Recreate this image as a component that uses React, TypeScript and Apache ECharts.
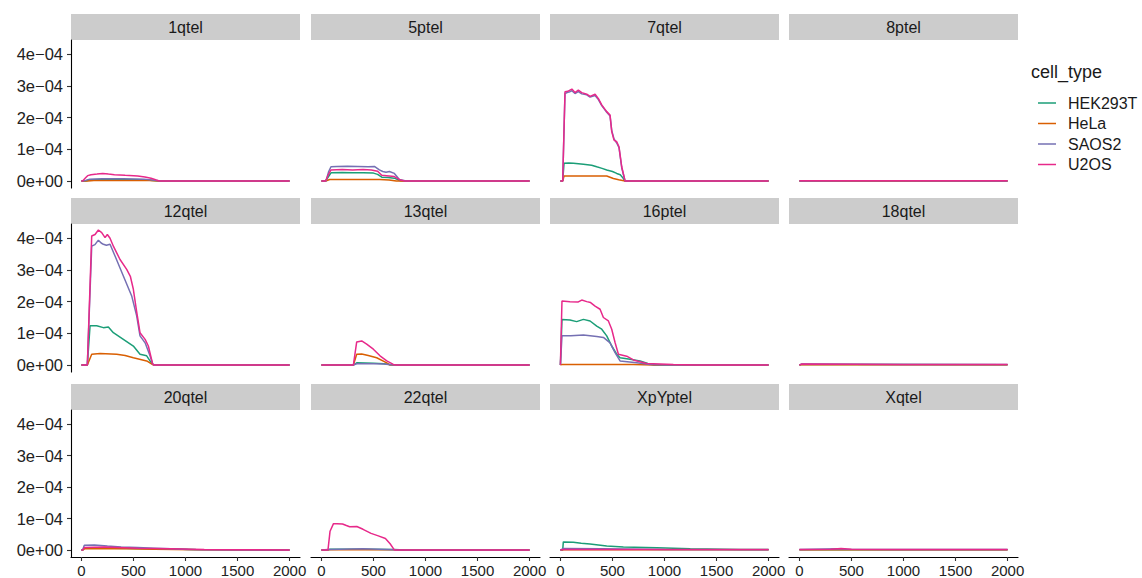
import React, { useEffect, useRef } from "react";
import * as echarts from "echarts";

// ---------- data (y values in units of 1e-4) ----------
const cellTypes = ["HEK293T", "HeLa", "SAOS2", "U2OS"];
const colors = ["#1B9E77", "#D95F02", "#7570B3", "#E7298A"];
const panels = ["1qtel", "5ptel", "7qtel", "8ptel", "12qtel", "13qtel", "16ptel", "18qtel", "20qtel", "22qtel", "XpYptel", "Xqtel"];
const xTicks = [0, 500, 1000, 1500, 2000];
const yTicks = [0, 1e-4, 2e-4, 3e-4, 4e-4];
const UNIT = 1e-4;

type Pts = number[][];

// 1qtel
const q1_HEK: Pts = [[0, 0], [40, 0], [80, 0.04], [200, 0.05], [400, 0.05], [600, 0.04], [720, 0.01], [760, 0], [2000, 0]];
const q1_HeLa: Pts = [[0, 0], [60, 0], [120, 0.02], [400, 0.02], [650, 0.02], [740, 0], [2000, 0]];
const q1_SAOS2: Pts = [[0, 0], [40, 0.02], [80, 0.06], [200, 0.07], [400, 0.07], [600, 0.06], [720, 0.02], [760, 0], [2000, 0]];
const q1_U2OS: Pts = [[0, 0], [12, 0], [40, 0.1], [60, 0.17], [92, 0.2], [150, 0.22], [205, 0.24], [260, 0.22], [317, 0.2], [420, 0.18], [541, 0.16], [610, 0.13], [669, 0.09], [720, 0.03], [749, 0], [2000, 0]];

// 5ptel
const p5_HEK: Pts = [[0, 0], [40, 0], [70, 0.15], [92, 0.26], [200, 0.27], [300, 0.26], [400, 0.26], [500, 0.25], [540, 0.21], [580, 0.12], [640, 0.11], [700, 0.09], [760, 0.01], [800, 0], [2000, 0]];
const p5_HeLa: Pts = [[0, 0], [40, 0], [80, 0.05], [300, 0.05], [560, 0.05], [650, 0.03], [720, 0], [2000, 0]];
const p5_SAOS2: Pts = [[0, 0], [44, 0], [70, 0.3], [92, 0.45], [150, 0.46], [250, 0.47], [350, 0.46], [450, 0.45], [509, 0.46], [557, 0.35], [589, 0.3], [621, 0.28], [653, 0.3], [701, 0.24], [749, 0.05], [813, 0], [2000, 0]];
const p5_U2OS: Pts = [[0, 0], [40, 0], [70, 0.22], [92, 0.35], [200, 0.36], [300, 0.35], [400, 0.36], [480, 0.35], [540, 0.31], [580, 0.18], [650, 0.16], [700, 0.14], [760, 0.03], [800, 0], [2000, 0]];

// 7qtel
const q7_HEK: Pts = [[0, 0], [22, 0], [35, 0.56], [80, 0.57], [125, 0.56], [221, 0.53], [300, 0.5], [349, 0.45], [400, 0.4], [445, 0.35], [500, 0.3], [541, 0.24], [575, 0.2], [600, 0.1], [621, 0], [2000, 0]];
const q7_HeLa: Pts = [[0, 0], [22, 0], [35, 0.16], [200, 0.16], [445, 0.16], [509, 0.08], [560, 0.04], [621, 0], [2000, 0]];
const q7_SAOS2: Pts = [[0, 0], [22, 0], [44, 2.76], [70, 2.8], [92, 2.82], [110, 2.85], [140, 2.76], [172, 2.82], [205, 2.75], [253, 2.72], [285, 2.65], [333, 2.7], [365, 2.57], [397, 2.38], [445, 2.17], [477, 2.05], [493, 1.6], [515, 1.33], [541, 1.2], [563, 1.05], [589, 0.42], [621, 0], [2000, 0]];
const q7_U2OS: Pts = [[0, 0], [22, 0], [44, 2.82], [70, 2.83], [92, 2.87], [110, 2.9], [140, 2.79], [172, 2.87], [205, 2.79], [253, 2.74], [285, 2.67], [333, 2.74], [365, 2.6], [397, 2.4], [445, 2.19], [477, 2.08], [493, 1.56], [515, 1.29], [541, 1.24], [563, 1.08], [589, 0.45], [621, 0], [2000, 0]];

// 8ptel
const p8_HEK: Pts = [[0, 0], [500, 0.01], [1000, 0], [2000, 0]];
const p8_HeLa: Pts = [[0, 0], [500, 0], [1000, 0], [2000, 0]];
const p8_SAOS2: Pts = [[0, 0], [500, 0.01], [1000, 0.01], [2000, 0]];
const p8_U2OS: Pts = [[0, 0.01], [500, 0.01], [1000, 0.01], [2000, 0.01]];

// 12qtel
const q12_HEK: Pts = [[0, 0], [57, 0], [83, 1.24], [147, 1.24], [211, 1.18], [259, 1.2], [307, 1.02], [403, 0.81], [499, 0.6], [563, 0.34], [627, 0.29], [675, 0.05], [700, 0], [2000, 0]];
const q12_HeLa: Pts = [[0, 0], [57, 0], [99, 0.34], [179, 0.36], [339, 0.34], [420, 0.3], [499, 0.23], [627, 0.13], [685, 0.01], [700, 0], [2000, 0]];
const q12_SAOS2: Pts = [[0, 0], [57, 0], [99, 3.75], [130, 3.8], [163, 3.94], [190, 3.85], [211, 3.81], [240, 3.78], [275, 3.81], [323, 3.44], [403, 2.81], [483, 2.18], [531, 1.55], [563, 0.92], [612, 0.7], [659, 0.29], [685, 0.03], [700, 0], [2000, 0]];
const q12_U2OS: Pts = [[0, 0], [57, 0], [99, 4.07], [131, 4.12], [163, 4.26], [195, 4.18], [227, 4.02], [249, 4.12], [275, 4.0], [307, 3.75], [371, 3.33], [435, 3.02], [470, 2.8], [499, 2.39], [530, 1.7], [563, 1.02], [612, 0.81], [643, 0.6], [685, 0.03], [700, 0], [2000, 0]];

// 13qtel
const q13_HEK: Pts = [[0, 0], [307, 0], [339, 0.07], [500, 0.06], [600, 0.04], [690, 0], [2000, 0]];
const q13_HeLa: Pts = [[0, 0], [307, 0], [339, 0.34], [387, 0.35], [450, 0.3], [531, 0.23], [628, 0.07], [660, 0], [2000, 0]];
const q13_SAOS2: Pts = [[0, 0], [307, 0], [339, 0.04], [500, 0.04], [600, 0.03], [690, 0], [2000, 0]];
const q13_U2OS: Pts = [[0, 0], [307, 0], [339, 0.73], [387, 0.76], [435, 0.66], [499, 0.5], [563, 0.29], [628, 0.13], [691, 0.02], [720, 0], [2000, 0]];

// 16ptel
const p16_HEK: Pts = [[0, 0], [5, 0], [15, 1.44], [92, 1.42], [156, 1.37], [221, 1.44], [285, 1.39], [349, 1.23], [397, 1.13], [445, 0.92], [493, 0.6], [541, 0.34], [573, 0.23], [669, 0.18], [765, 0.13], [840, 0.05], [900, 0], [2000, 0]];
const p16_HeLa: Pts = [[0, 0], [5, 0], [15, 0.02], [700, 0.02], [900, 0], [2000, 0]];
const p16_SAOS2: Pts = [[0, 0], [5, 0], [15, 0.92], [100, 0.92], [221, 0.95], [349, 0.9], [413, 0.87], [477, 0.7], [525, 0.39], [573, 0.13], [733, 0.07], [860, 0.02], [1000, 0], [2000, 0]];
const p16_U2OS: Pts = [[0, 0], [5, 0], [15, 2.02], [92, 2.0], [172, 1.99], [205, 2.05], [253, 2.0], [290, 1.97], [333, 1.86], [381, 1.76], [413, 1.5], [461, 1.39], [493, 1.13], [525, 0.71], [557, 0.34], [637, 0.28], [701, 0.16], [829, 0.05], [1085, 0.02], [1300, 0], [2000, 0]];

// 18qtel
const q18_HEK: Pts = [[0, 0], [20, 0.02], [1000, 0.02], [2000, 0.01]];
const q18_HeLa: Pts = [[0, 0], [20, 0.01], [1000, 0.01], [2000, 0.01]];
const q18_SAOS2: Pts = [[0, 0], [20, 0.03], [1000, 0.02], [2000, 0.02]];
const q18_U2OS: Pts = [[0, 0], [20, 0.03], [1000, 0.02], [2000, 0.02]];

// 20qtel
const q20_HEK: Pts = [[0, 0], [12, 0], [28, 0.06], [300, 0.06], [700, 0.04], [1100, 0.02], [1500, 0.01], [2000, 0]];
const q20_HeLa: Pts = [[0, 0], [12, 0], [28, 0.04], [300, 0.05], [700, 0.03], [1100, 0.01], [2000, 0]];
const q20_SAOS2: Pts = [[0, 0], [12, 0], [28, 0.15], [124, 0.16], [250, 0.13], [381, 0.1], [540, 0.08], [702, 0.06], [860, 0.04], [1022, 0.02], [1200, 0.01], [2000, 0]];
const q20_U2OS: Pts = [[0, 0], [12, 0], [28, 0.08], [220, 0.1], [540, 0.06], [860, 0.04], [1180, 0.02], [1500, 0.01], [2000, 0]];

// 22qtel
const q22_HEK: Pts = [[0, 0], [63, 0], [83, 0.03], [400, 0.03], [700, 0.02], [800, 0], [2000, 0]];
const q22_HeLa: Pts = [[0, 0], [63, 0.01], [700, 0.01], [800, 0], [2000, 0]];
const q22_SAOS2: Pts = [[0, 0], [63, 0.02], [400, 0.04], [700, 0.01], [800, 0], [2000, 0]];
const q22_U2OS: Pts = [[0, 0], [63, 0], [83, 0.6], [116, 0.84], [150, 0.84], [203, 0.83], [240, 0.78], [271, 0.74], [340, 0.75], [400, 0.66], [477, 0.53], [540, 0.46], [615, 0.37], [660, 0.2], [702, 0], [2000, 0]];

// XpYptel
const xpy_HEK: Pts = [[0, 0], [22, 0], [28, 0.26], [124, 0.25], [200, 0.22], [284, 0.19], [445, 0.13], [605, 0.1], [926, 0.07], [1247, 0.04], [1728, 0.02], [2000, 0.02]];
const xpy_HeLa: Pts = [[0, 0], [28, 0.01], [1000, 0.01], [2000, 0.01]];
const xpy_SAOS2: Pts = [[0, 0], [28, 0.05], [400, 0.04], [1000, 0.02], [2000, 0.01]];
const xpy_U2OS: Pts = [[0, 0], [28, 0.02], [1000, 0.02], [2000, 0.02]];

// Xqtel
const xq_HEK: Pts = [[0, 0.01], [1000, 0.01], [2000, 0.01]];
const xq_HeLa: Pts = [[0, 0.01], [1000, 0.01], [2000, 0.01]];
const xq_SAOS2: Pts = [[0, 0.02], [380, 0.04], [450, 0.03], [1000, 0.02], [2000, 0.02]];
const xq_U2OS: Pts = [[0, 0.02], [300, 0.03], [400, 0.05], [500, 0.03], [900, 0.02], [2000, 0.02]];

const panelData: Pts[][] = [
  [q1_HEK, q1_HeLa, q1_SAOS2, q1_U2OS],
  [p5_HEK, p5_HeLa, p5_SAOS2, p5_U2OS],
  [q7_HEK, q7_HeLa, q7_SAOS2, q7_U2OS],
  [p8_HEK, p8_HeLa, p8_SAOS2, p8_U2OS],
  [q12_HEK, q12_HeLa, q12_SAOS2, q12_U2OS],
  [q13_HEK, q13_HeLa, q13_SAOS2, q13_U2OS],
  [p16_HEK, p16_HeLa, p16_SAOS2, p16_U2OS],
  [q18_HEK, q18_HeLa, q18_SAOS2, q18_U2OS],
  [q20_HEK, q20_HeLa, q20_SAOS2, q20_U2OS],
  [q22_HEK, q22_HeLa, q22_SAOS2, q22_U2OS],
  [xpy_HEK, xpy_HeLa, xpy_SAOS2, xpy_U2OS],
  [xq_HEK, xq_HeLa, xq_SAOS2, xq_U2OS],
];

// ---------- layout ----------
const colLeft = [71, 311, 550, 789];
const panelW = 229;
const rowTop = [40, 224, 410];
const rowH = [148, 148, 147];
const stripH = 26;
const FONT = "'Liberation Sans', Arial, Helvetica, sans-serif";

function yFmt(v: number): string {
  if (Math.abs(v) < 1e-12) return "0e+00";
  const k = Math.round(v / 1e-4);
  return `${k}e\u221204`;
}

export default function App() {
  const ref = useRef<HTMLDivElement>(null);
  useEffect(() => {
    document.body.style.margin = "0";
    if (!ref.current) return;
    const chart = echarts.init(ref.current, undefined, { renderer: "svg" });

    const grids: any[] = [];
    const xAxes: any[] = [];
    const yAxes: any[] = [];
    const series: any[] = [];
    const graphics: any[] = [];

    panels.forEach((name, i) => {
      const r = Math.floor(i / 4);
      const c = i % 4;
      grids.push({
        left: colLeft[c],
        top: rowTop[r],
        width: panelW,
        height: rowH[r],
        containLabel: false,
        outerBoundsMode: "none",
      });
      const showX = r === 2;
      xAxes.push({
        type: "value",
        gridIndex: i,
        min: -100,
        max: 2100,
        axisLine: { show: showX, onZero: false, lineStyle: { color: "#000", width: 1.1 } },
        axisTick: { show: showX, length: 4, customValues: xTicks, lineStyle: { color: "#333", width: 1.1 } },
        axisLabel: {
          show: showX,
          customValues: xTicks,
          formatter: (v: number) => String(Math.round(v)),
          fontSize: 15,
          color: "#222",
          margin: 6,
          fontFamily: FONT,
        },
        splitLine: { show: false },
      });
      const showY = c === 0;
      yAxes.push({
        type: "value",
        gridIndex: i,
        min: -0.22e-4,
        max: 4.45e-4,
        axisLine: { show: showY, onZero: false, lineStyle: { color: "#000", width: 1.1 } },
        axisTick: { show: showY, length: 4, customValues: yTicks, lineStyle: { color: "#333", width: 1.1 } },
        axisLabel: {
          show: showY,
          customValues: yTicks,
          formatter: (v: number) => yFmt(v),
          fontSize: 16.5,
          color: "#222",
          margin: 8,
          fontFamily: FONT,
        },
        splitLine: { show: false },
      });
      panelData[i].forEach((pts, s) => {
        series.push({
          type: "line",
          name: cellTypes[s],
          xAxisIndex: i,
          yAxisIndex: i,
          data: pts.map((p) => [p[0], p[1] * UNIT]),
          showSymbol: false,
          symbol: "none",
          color: colors[s],
          lineStyle: { color: colors[s], width: 1.5 },
          itemStyle: { color: colors[s] },
          z: 2 + s,
          silent: true,
        });
      });
      // strip
      graphics.push({
        type: "rect",
        shape: { x: colLeft[c], y: rowTop[r] - stripH, width: panelW, height: stripH },
        style: { fill: "#CCCCCC" },
        silent: true,
      });
      graphics.push({
        type: "text",
        x: colLeft[c] + panelW / 2,
        y: rowTop[r] - stripH / 2,
        style: {
          text: name,
          fill: "#1a1a1a",
          font: `16px ${FONT}`,
          align: "center",
          verticalAlign: "middle",
        },
        silent: true,
      });
    });

    graphics.push({
      type: "text",
      x: 1031,
      y: 72,
      style: {
        text: "cell_type",
        fill: "#1a1a1a",
        font: `18px ${FONT}`,
        align: "left",
        verticalAlign: "middle",
      },
      silent: true,
    });

    chart.setOption({
      animation: false,
      backgroundColor: "#ffffff",
      grid: grids,
      xAxis: xAxes,
      yAxis: yAxes,
      series,
      graphic: graphics,
      legend: {
        data: cellTypes.map((n, k) => ({ name: n, itemStyle: { color: colors[k] } })),
        orient: "vertical",
        left: 1033,
        top: 89,
        itemWidth: 18,
        itemHeight: 20,
        itemGap: 2.5,
        icon: "path://M0,0H18V1.5H0Z",
        selectedMode: false,
        textStyle: { fontSize: 16, color: "#1a1a1a", fontFamily: FONT, padding: [0, 0, 0, 7], lineHeight: 18 },
      },
    });
    return () => chart.dispose();
  }, []);
  return <div ref={ref} style={{ width: 1142, height: 578 }} />;
}
